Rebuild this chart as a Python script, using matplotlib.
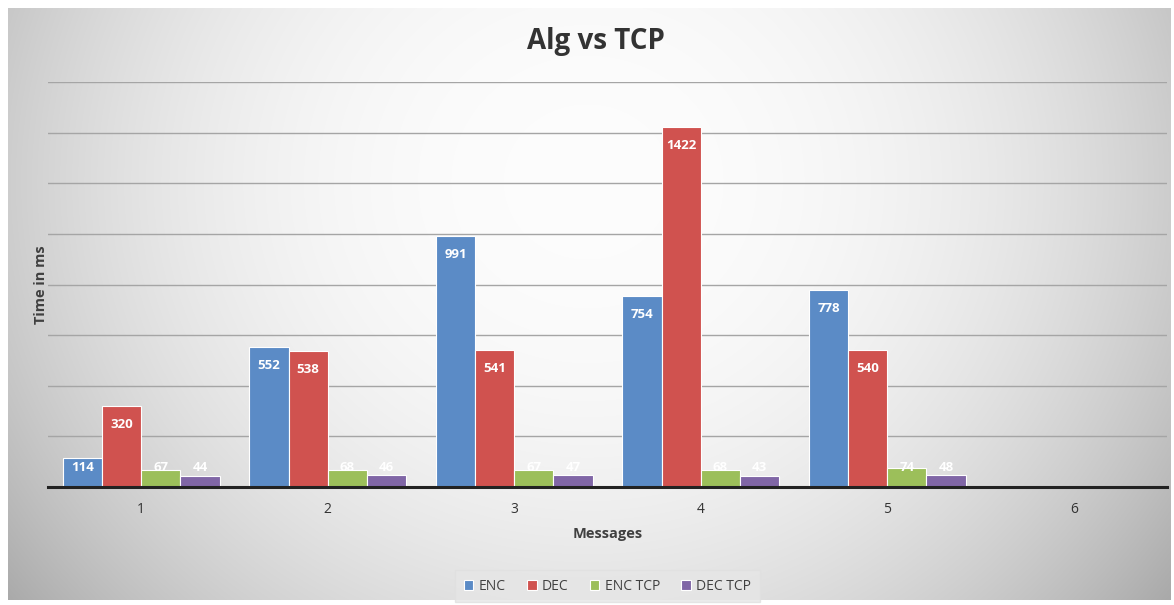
import numpy as np
import matplotlib
matplotlib.use("Agg")
import matplotlib.pyplot as plt

categories = ["1", "2", "3", "4", "5", "6"]
series_names = ["ENC", "DEC", "ENC TCP", "DEC TCP"]
enc = [114, 552, 991, 754, 778, None]
dec = [320, 538, 541, 1422, 540, None]
enc_tcp = [67, 68, 67, 68, 74, None]
dec_tcp = [44, 46, 47, 43, 48, None]
series = [enc, dec, enc_tcp, dec_tcp]
colors = ["#5B8BC6", "#D0524F", "#9CBF5A", "#8066A6"]

W, H = 1174, 605
fig = plt.figure(figsize=(W / 100, H / 100), dpi=100)
fig.patch.set_facecolor("white")

# background gradient panel
bg = fig.add_axes([0, 0, 1, 1], zorder=-10)
bg.set_axis_off()
yy, xx = np.mgrid[0:H, 0:W]
dx = (xx - W * 0.5) / (W * 0.5)
dy = (yy - H * 0.3) / (H * 0.9)
r = np.sqrt(dx ** 2 + dy ** 2)
val = 0.99 - 0.19 * np.clip(r, 0, 1.3) ** 2.4
img = np.dstack([val, val, val])
mask = (xx < 8) | (yy < 8) | (xx > W - 4) | (yy > H - 6)
img[mask] = 1.0
bg.imshow(img, extent=[0, 1, 0, 1], aspect="auto", origin="upper")
bg.set_xlim(0, 1)
bg.set_ylim(0, 1)

ax = fig.add_axes([48 / W, (H - 487) / H, (1167 - 48) / W, (487 - 82) / H])
ax.patch.set_alpha(0)
x = np.arange(len(categories))
bw = 0.21
offsets = (np.arange(4) - 1.5) * bw
for s, vals in enumerate(series):
    xs = [x[i] + offsets[s] for i, v in enumerate(vals) if v is not None]
    vs = [v for v in vals if v is not None]
    ax.bar(xs, vs, width=bw, color=colors[s], edgecolor="white", linewidth=0.8,
           label=series_names[s], zorder=3)
    for xi, v in zip(xs, vs):
        ax.text(xi, max(v - 72, 78), str(v), ha="center", va="center",
                color="white", fontsize=9.5, fontweight="bold", family="Open Sans", zorder=4)

ax.set_xlim(-0.5, len(categories) - 0.5)
ax.set_ylim(0, 1600)
ax.set_yticks(np.arange(200, 1601, 200))
ax.yaxis.grid(True, color="#a5a5a5", linewidth=1.0, zorder=0)
ax.tick_params(axis="y", left=False, labelleft=False)
ax.tick_params(axis="x", length=0, pad=11, labelsize=10, labelcolor="#333333")
ax.set_xticks(x)
ax.set_xticklabels(categories, family="Open Sans")
for sp in ["top", "right", "left"]:
    ax.spines[sp].set_visible(False)
ax.spines["bottom"].set_color("#222222")
ax.spines["bottom"].set_linewidth(2.2)
ax.spines["bottom"].set_zorder(5)

ax.set_xlabel("Messages", fontsize=10.5, fontweight="bold", color="#404040",
              family="Open Sans", labelpad=7)
ax.set_ylabel("Time in ms", fontsize=10.5, fontweight="bold", color="#404040",
              family="Open Sans", labelpad=0)

fig.text(0.508, (H - 42) / H, "Alg vs TCP", ha="center", va="center",
         fontsize=20, fontweight="bold", color="#333333", family="Open Sans")

leg = ax.legend(loc="center", bbox_to_anchor=(0.5, -0.245), ncol=4, frameon=True,
                handlelength=0.7, handleheight=0.7, handletextpad=0.4,
                columnspacing=1.5, prop={"family": "Open Sans", "size": 10})
leg.get_frame().set_facecolor("#e6e6e6")
leg.get_frame().set_edgecolor("#e0e0e0")
leg.get_frame().set_boxstyle("square", pad=0.2)
for t in leg.get_texts():
    t.set_color("#404040")

fig.savefig("out.png", dpi=100)
